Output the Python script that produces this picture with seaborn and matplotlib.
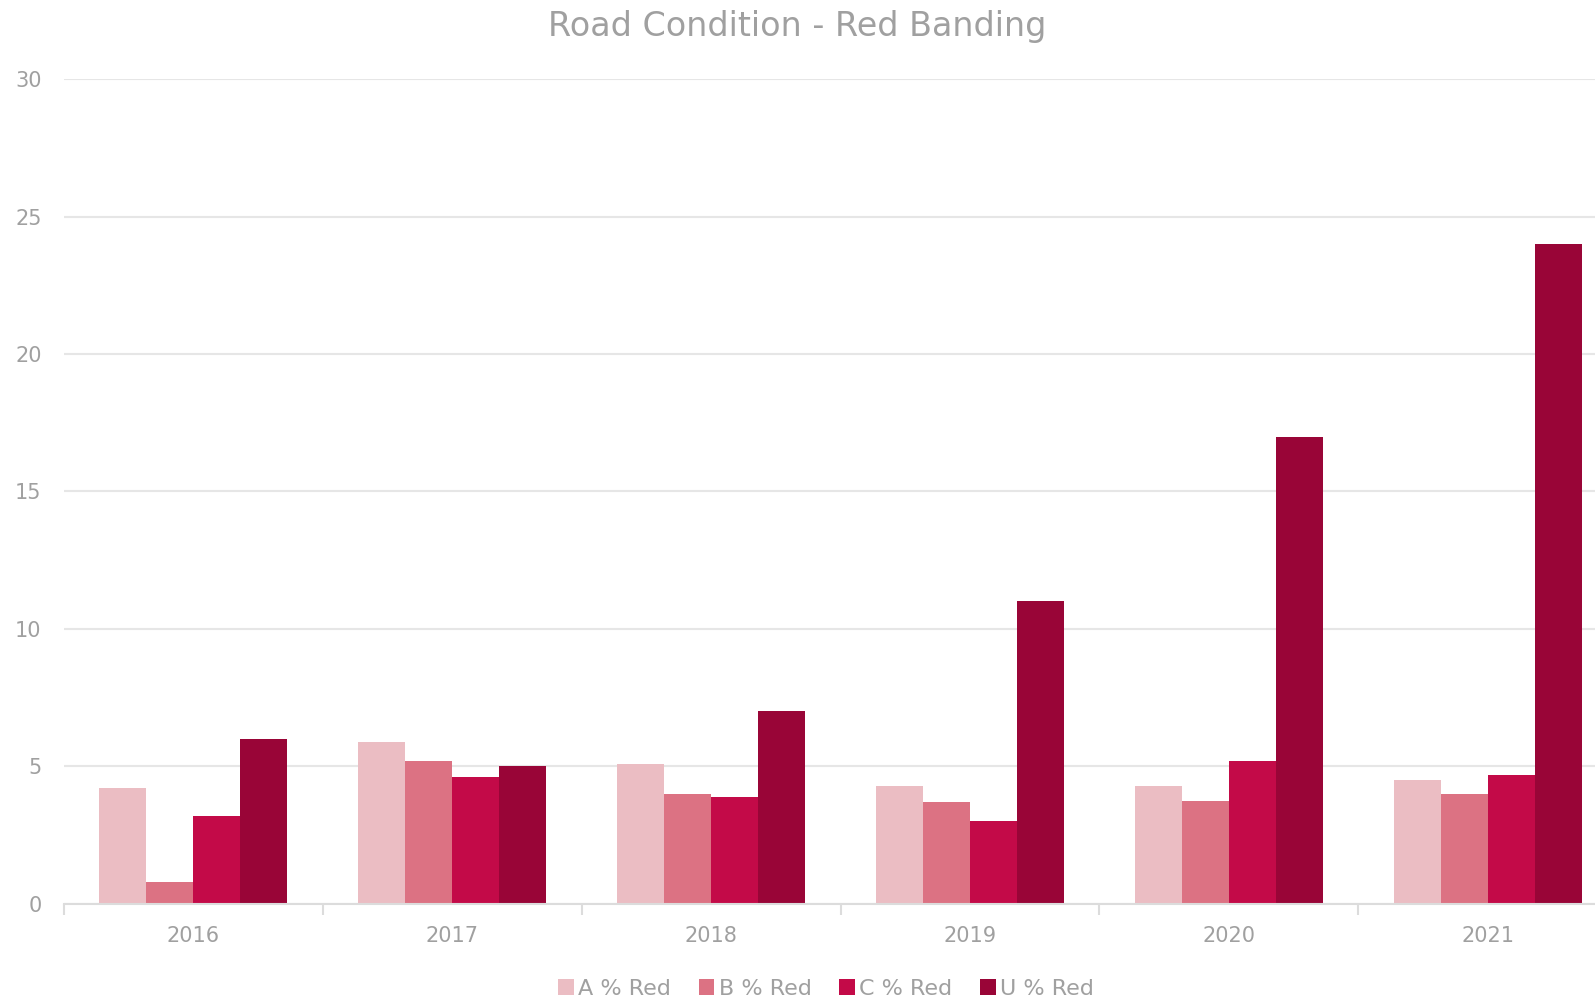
import pandas as pd
import matplotlib.pyplot as plt
import seaborn as sns

# values
years = ['2016', '2017', '2018', '2019', '2020', '2021']
a_red = [4.2, 5.9, 5.1, 4.3, 4.3, 4.5]
b_red = [0.8, 5.2, 4.0, 3.7, 3.75, 4.0]
c_red = [3.2, 4.6, 3.9, 3.0, 5.2, 4.7]
u_red = [6.0, 5.0, 7.0, 11.0, 17.0, 24.0]
series = ['A % Red', 'B % Red', 'C % Red', 'U % Red']
colors = ['#ebbdc3', '#dc7283', '#c30a48', '#990537']

df = pd.DataFrame({'year': years, 'A % Red': a_red, 'B % Red': b_red,
                   'C % Red': c_red, 'U % Red': u_red})
long_df = df.melt(id_vars='year', var_name='band', value_name='pct')

sns.set_style('white')
plt.rcParams['font.family'] = ['DejaVu Sans']
grey = '#a0a0a0'

fig = plt.figure(figsize=(15.95, 10.01), dpi=100)
ax = fig.add_axes([0.040, 0.097, 0.96, 0.824])

sns.barplot(data=long_df, x='year', y='pct', hue='band', hue_order=series,
            palette=colors, width=0.727, gap=0, linewidth=0, saturation=1, ax=ax)

ax.set_ylim(0, 30)
ax.set_yticks([0, 5, 10, 15, 20, 25, 30])
ax.yaxis.grid(True, color='#e6e6e6', linewidth=1.5)
ax.set_axisbelow(True)
for side in ['top', 'right', 'left']:
    ax.spines[side].set_visible(False)
ax.spines['bottom'].set_color('#dcdcdc')
ax.spines['bottom'].set_linewidth(1.5)

# tick marks between the year groups
ax.set_xticks([i - 0.5 for i in range(7)], minor=True)
ax.set_xlim(-0.5, 5.414)
ax.tick_params(axis='x', which='minor', bottom=True, length=8, color='#dcdcdc', width=1.5)
ax.tick_params(axis='x', which='major', length=0, pad=16, labelsize=15, labelcolor=grey)
ax.tick_params(axis='y', length=0, pad=16, labelsize=15, labelcolor=grey)
ax.set_xlabel('')
ax.set_ylabel('')

fig.suptitle('Road Condition - Red Banding', y=0.99, fontsize=24, color=grey)

handles, labels = ax.get_legend_handles_labels()
ax.get_legend().remove()
fig.legend(handles, labels, loc='center', bbox_to_anchor=(0.518, 0.012),
           ncol=4, frameon=False, fontsize=16, labelcolor=grey,
           handlelength=0.7, handleheight=0.7, handletextpad=0.2, columnspacing=1.25)

fig.savefig('out.png', dpi=100)
